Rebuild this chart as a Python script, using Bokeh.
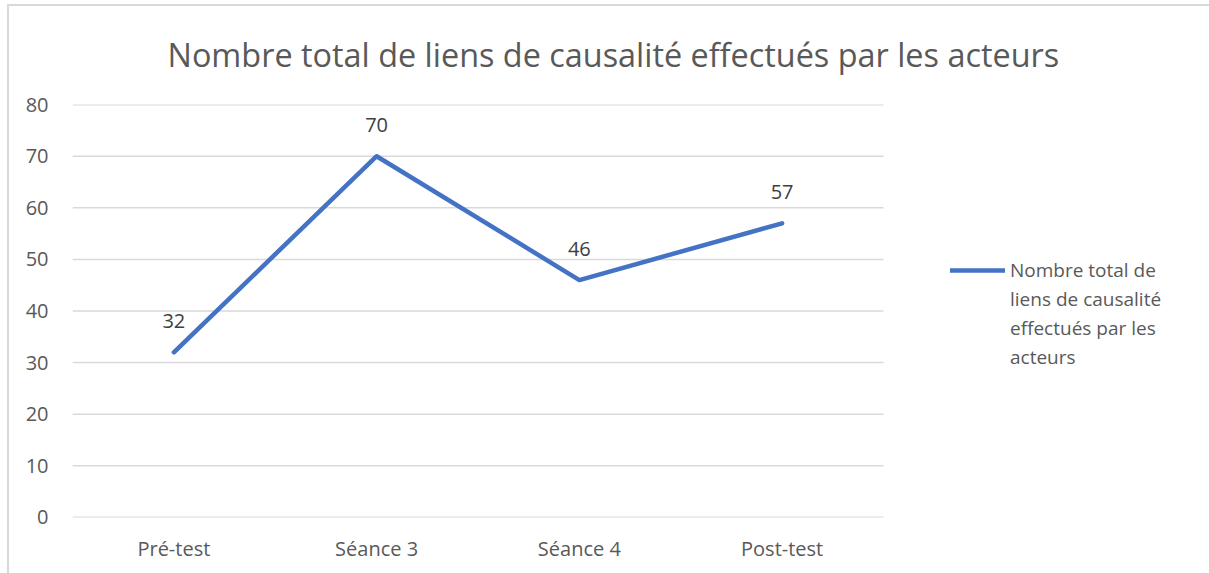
from bokeh.plotting import figure
from bokeh.models import (ColumnDataSource, LabelSet, Legend, LegendItem,
                          Range1d, FixedTicker, Title)
from bokeh.core.properties import value
from bokeh.embed import file_html
from bokeh.resources import INLINE

categories = ["Pré-test", "Séance 3", "Séance 4", "Post-test"]
values = [32, 70, 46, 57]
y_ticks = [0, 10, 20, 30, 40, 50, 60, 70, 80]
title_text = "Nombre total de liens de causalité effectués par les acteurs"
series_lines = ["Nombre total de", "liens de causalité", "effectués par les", "acteurs"]

FONT = "Open Sans"
TXT = "#595959"
GRID = "#d9d9d9"
LINE = "#4472C4"

n = len(categories)
xpos = list(range(1, n + 1))
src = ColumnDataSource(dict(x=xpos, val=values, lab=[str(v) for v in values]))
grid_src = ColumnDataSource(dict(x0=[0.5] * len(y_ticks), x1=[n + 0.5] * len(y_ticks),
                                 y=y_ticks))

# plot area spans to the right edge so the legend can sit inside it;
# categories occupy the left 811 px of the 1137 px wide area
x_end = 0.5 + n * 1137 / 811
p = figure(x_range=Range1d(0.5, x_end), y_range=Range1d(-0.03, 80.03),
           width=1209, height=573, output_backend="svg", toolbar_location=None,
           min_border_left=72, min_border_right=0, min_border_top=104,
           min_border_bottom=56)
p.outline_line_color = None
p.background_fill_alpha = 0
p.border_fill_alpha = 0
p.grid.visible = False
# light chart-area border on the left and top edges
p.styles = {"box-shadow": "inset 7px 4px 0 0 #ffffff, inset 9px 6px 0 0 #d9d9d9",
            "background-color": "#ffffff"}

p.title = Title(text=title_text, align="left", offset=95, standoff=58,
                text_font=FONT, text_font_size="32.4px", text_color=TXT,
                text_font_style="normal")

p.segment(x0="x0", x1="x1", y0="y", y1="y", source=grid_src,
          line_color=GRID, line_width=1.5)

r = p.line(x="x", y="val", source=src, line_color=LINE, line_width=4.5,
           line_join="round", line_cap="round")
# invisible renderer used only to carry the continuation lines of the legend text
r_blank = p.line(x="x", y="val", source=src, line_alpha=0)

for ax in (p.xaxis[0], p.yaxis[0]):
    ax.axis_line_color = None
    ax.major_tick_line_color = None
    ax.minor_tick_line_color = None
    ax.major_tick_out = 0
    ax.major_tick_in = 0
    ax.minor_tick_out = 0
    ax.major_label_text_font = FONT
    ax.major_label_text_font_size = "20px"
    ax.major_label_text_color = TXT
p.yaxis[0].ticker = FixedTicker(ticks=y_ticks)
p.yaxis[0].major_label_standoff = 24
p.xaxis[0].ticker = FixedTicker(ticks=xpos)
p.xaxis[0].major_label_overrides = {i: c for i, c in zip(xpos, categories)}
p.xaxis[0].major_label_standoff = 17

labels = LabelSet(x="x", y="val", text="lab", source=src, y_offset=31,
                  text_align="center", text_baseline="middle",
                  text_font=value(FONT), text_font_size="20px",
                  text_color="#404040")
p.add_layout(labels)

items = [LegendItem(label=series_lines[0], renderers=[r])]
items += [LegendItem(label=t, renderers=[r_blank]) for t in series_lines[1:]]
legend = Legend(items=items,
                location=(878, 147), glyph_width=55, glyph_height=20,
                label_height=20, spacing=3,
                label_text_font=FONT, label_text_font_size="19px",
                label_text_color=TXT, label_standoff=5, padding=0, margin=0,
                border_line_color=None, background_fill_alpha=0)
p.add_layout(legend, "center")

open("out.html", "w").write(file_html(p, INLINE))
